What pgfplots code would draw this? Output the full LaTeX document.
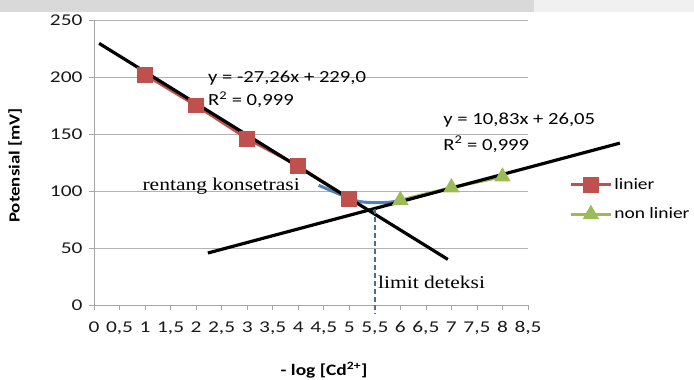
\documentclass[border=0pt]{standalone}
\usepackage{pgfplots}
\pgfplotsset{compat=1.18}
\usepackage{fontspec}
\setmainfont{Carlito}[FakeStretch=1.22]
\newfontfamily\tickf{Carlito}[FakeStretch=1.3]
\newfontfamily\serifx{Liberation Serif}[FakeStretch=1.2]
\definecolor{xred}{HTML}{C0504D}
\definecolor{xgreen}{HTML}{9BBB59}
\definecolor{xblue}{HTML}{4F81BD}
\begin{document}
\begin{tikzpicture}
\useasboundingbox (-94bp,-75bp) rectangle (600bp,305bp);
\fill[gray!30] (-94bp,293bp) rectangle (440bp,305bp);
\fill[gray!12] (440bp,293bp) rectangle (600bp,305bp);
\begin{axis}[
  at={(0,0)}, anchor=south west, scale only axis,
  width=434bp, height=285bp,
  xmin=0, xmax=8.5, ymin=0, ymax=250,
  clip=false,
  axis x line*=bottom, axis y line*=left,
  axis line style={gray!70, line width=0.8pt},
  xtick={0,0.5,1,1.5,2,2.5,3,3.5,4,4.5,5,5.5,6,6.5,7,7.5,8,8.5},
  ytick={0,50,100,150,200,250},
  ymajorgrids, grid style={gray!60, line width=0.7pt},
  tick align=outside, major tick length=5bp,
  tick style={gray!70, line width=0.7pt},
  /pgf/number format/assume math mode=true,
  /pgf/number format/use comma,
  ticklabel style={font=\tickf\fontsize{16.5}{19}\selectfont, text=black!90},
  xticklabel style={yshift=-8bp, inner xsep=0pt},
  yticklabel style={xshift=-3bp},
  xlabel={- log [Cd\textsuperscript{2+}]},
  xlabel style={at={(axis description cs:0.53,-0.228)}, anchor=center, font=\bfseries\fontsize{16}{19}\selectfont},
  ylabel={Potensial [mV]},
  ylabel style={at={(axis description cs:-0.182,0.49)}, anchor=center, font=\bfseries\fontsize{15.5}{19}\selectfont},
  legend style={at={(axis description cs:1.095,0.452)}, anchor=north west, draw=none, fill=none,
    font=\fontsize{16}{19}\selectfont, row sep=13bp, inner sep=0pt},
  legend cell align=left,
  legend image code/.code={\draw[mark repeat=2,mark phase=2,#1] plot coordinates {(0bp,0bp)(20bp,0bp)(40bp,0bp)};},
]
% blue segment
\addplot[xblue, line width=3pt, smooth, forget plot] coordinates {(4.4,105) (4.9,95.5) (5.2,90.8) (5.5,89.8) (5.8,90.2) (6,92)};
\addplot[xred, line width=3pt, mark=square*, mark size=6.5bp, mark options={solid}] coordinates {(1,202) (2,175) (3,146) (4,122) (5,93)};
\addlegendentry{linier}
\addplot[xgreen, line width=3pt, mark=triangle*, mark size=6.5bp] coordinates {(6,92) (7,103) (8,112.5)};
\addlegendentry{non linier}
% trend lines
\addplot[black, line width=3.2pt, forget plot] coordinates {(0.1,229.5) (6.93,40)};
\addplot[black, line width=3.2pt, forget plot] coordinates {(2.23,45.6) (10.3,142)};
% detection limit
\addplot[xblue!85!black, line width=1.8pt, dash pattern=on 5pt off 3pt, forget plot] coordinates {(5.5,84) (5.5,-8)};
% annotations
\node[anchor=west, inner sep=0pt, font=\fontsize{17}{20}\selectfont] at (axis cs:2.23,199) {y = -27,26x + 229,0};
\node[anchor=west, inner sep=0pt, font=\fontsize{17}{20}\selectfont] at (axis cs:2.23,180) {R\textsuperscript{2} = 0,999};
\node[anchor=west, inner sep=0pt, font=\fontsize{17}{20}\selectfont] at (axis cs:6.84,162) {y = 10,83x + 26,05};
\node[anchor=west, inner sep=0pt, font=\fontsize{17}{20}\selectfont] at (axis cs:6.84,141) {R\textsuperscript{2} = 0,999};
\node[anchor=center, inner sep=0pt, font=\serifx\fontsize{18}{21}\selectfont] at (axis cs:2.49,104) {rentang konsetrasi};
\node[anchor=west, inner sep=0pt, font=\serifx\fontsize{18}{21}\selectfont] at (axis cs:5.56,20) {limit deteksi};
\end{axis}
\end{tikzpicture}
\end{document}
